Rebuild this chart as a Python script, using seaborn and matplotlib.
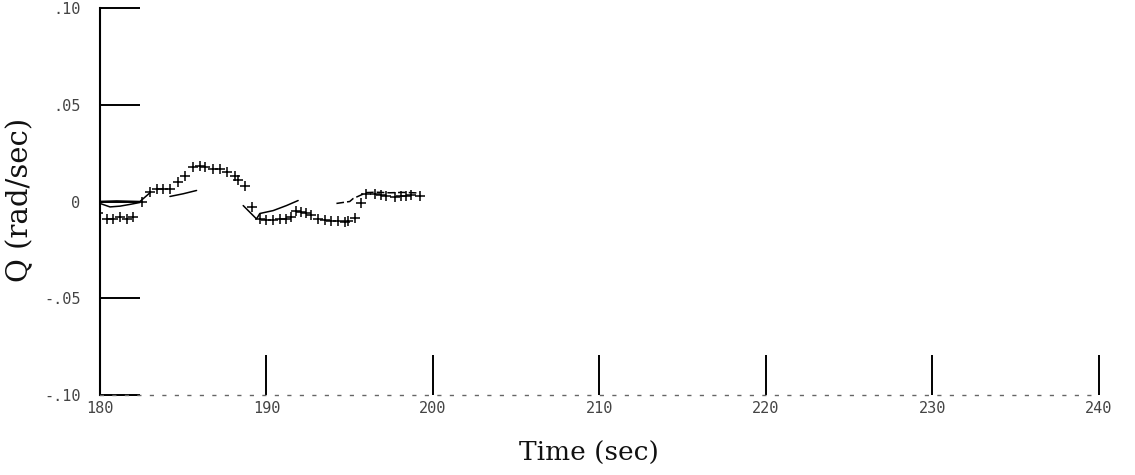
import matplotlib
matplotlib.use("Agg")
import matplotlib.pyplot as plt
import seaborn as sns
import numpy as np

# ---- data ----
x_ticks = [180, 190, 200, 210, 220, 230, 240]
x_tick_labels = ["180", "190", "200", "210", "220", "230", "240"]
y_ticks = [-0.10, -0.05, 0.0, 0.05, 0.10]
y_tick_labels = ["-.10", "-.05", "0", ".05", ".10"]

# flight data ("+" symbols)
plus_t = [179.9, 180.4, 180.8, 181.2, 181.6, 182.0, 182.5, 183.0, 183.4, 183.8,
          184.2, 184.7, 185.1, 185.6, 186.0, 186.3, 186.8, 187.2, 187.6, 188.1,
          188.3, 188.7, 189.1, 189.6, 190.0, 190.4, 190.8, 191.2, 191.5, 191.8,
          192.1, 192.4, 192.7, 193.1, 193.5, 193.9, 194.3, 194.7, 194.9, 195.3,
          195.7, 196.0, 196.5, 196.9, 197.2, 197.7, 198.1, 198.4, 198.7, 199.2]
plus_q = [-0.006, -0.009, -0.009, -0.008, -0.009, -0.008, 0.000, 0.0047, 0.0067, 0.0067,
          0.0067, 0.010, 0.013, 0.018, 0.0186, 0.018, 0.017, 0.017, 0.0155, 0.013,
          0.011, 0.0078, -0.0026, -0.0088, -0.0098, -0.0098, -0.0093, -0.0088, -0.0078, -0.0047,
          -0.0052, -0.0057, -0.0072, -0.0088, -0.0098, -0.0103, -0.0103, -0.0108, -0.0103, -0.0083,
          -0.001, 0.0041, 0.0041, 0.0036, 0.0026, 0.0021, 0.0026, 0.0031, 0.0036, 0.0026]

# model response segments (lines)
line1_t = [179.8, 181.0, 182.4, 183.0]
line1_q = [0.0, 0.0003, 0.0, 0.0045]
line2_t = [180.0, 180.6, 181.2, 181.8, 182.4]
line2_q = [-0.001, -0.0028, -0.0024, -0.0015, -0.0005]
line3_t = [184.2, 185.0, 185.8]
line3_q = [0.0026, 0.004, 0.0057]
line4_t = [188.6, 189.4, 189.6, 190.4, 191.2, 191.9]
line4_q = [-0.0021, -0.0090, -0.0062, -0.0047, -0.0021, 0.0005]
line5_t = [194.2, 195.0, 195.2, 196.0, 196.6, 197.4, 198.2, 199.2]
line5_q = [-0.001, 0.0, 0.0015, 0.0046, 0.0048, 0.0045, 0.0047, 0.0044]

sns.set_style("white")
plt.rcParams["font.family"] = ["DejaVu Sans"]

fig = plt.figure(figsize=(11.35, 4.75), dpi=100)
ax = fig.add_axes([100 / 1135, 80 / 475, 999 / 1135, 387 / 475])

sns.lineplot(x=line1_t, y=line1_q, ax=ax, color="black", lw=1.1, estimator=None, sort=False)
sns.lineplot(x=line2_t, y=line2_q, ax=ax, color="black", lw=1.1, estimator=None, sort=False)
sns.lineplot(x=line3_t, y=line3_q, ax=ax, color="black", lw=1.1, estimator=None, sort=False)
sns.lineplot(x=line4_t, y=line4_q, ax=ax, color="black", lw=1.1, estimator=None, sort=False)
sns.lineplot(x=line5_t, y=line5_q, ax=ax, color="black", lw=1.1, estimator=None, sort=False,
             linestyle=(0, (5, 2)))
sns.scatterplot(x=plus_t, y=plus_q, ax=ax, marker="+", s=55, color="black", linewidth=1.1,
                zorder=3)

ax.set_xlim(180, 240)
ax.set_ylim(-0.10, 0.10)

ax.set_xticks(x_ticks)
ax.set_xticklabels(x_tick_labels)
ax.set_yticks(y_ticks)
ax.set_yticklabels(y_tick_labels)

for s in ["top", "right"]:
    ax.spines[s].set_visible(False)
ax.spines["left"].set_color("black")
ax.spines["left"].set_linewidth(1.5)
ax.spines["bottom"].set_color("#666666")
ax.spines["bottom"].set_linewidth(1.0)
ax.spines["bottom"].set_linestyle((0, (2, 7)))

ax.tick_params(axis="x", which="major", bottom=True, top=False, direction="in",
               length=29, width=1.4, color="black", pad=4, labelcolor="#444444")
ax.tick_params(axis="y", which="major", left=True, right=False, direction="in",
               length=29, width=1.4, color="black", pad=14, labelcolor="#444444")
for lab in ax.get_xticklabels() + ax.get_yticklabels():
    lab.set_fontfamily("DejaVu Sans Mono")
    lab.set_fontsize(11)

ax.set_xlabel("Time (sec)", family="DejaVu Serif", fontsize=19, color="#111111")
ax.set_ylabel("Q (rad/sec)", family="DejaVu Serif", fontsize=21, color="#111111")
ax.xaxis.set_label_coords(0.489, -0.118)
ax.yaxis.set_label_coords(-0.066, 0.504)
ax.grid(False)

fig.savefig("out.png", dpi=100, facecolor="white")
